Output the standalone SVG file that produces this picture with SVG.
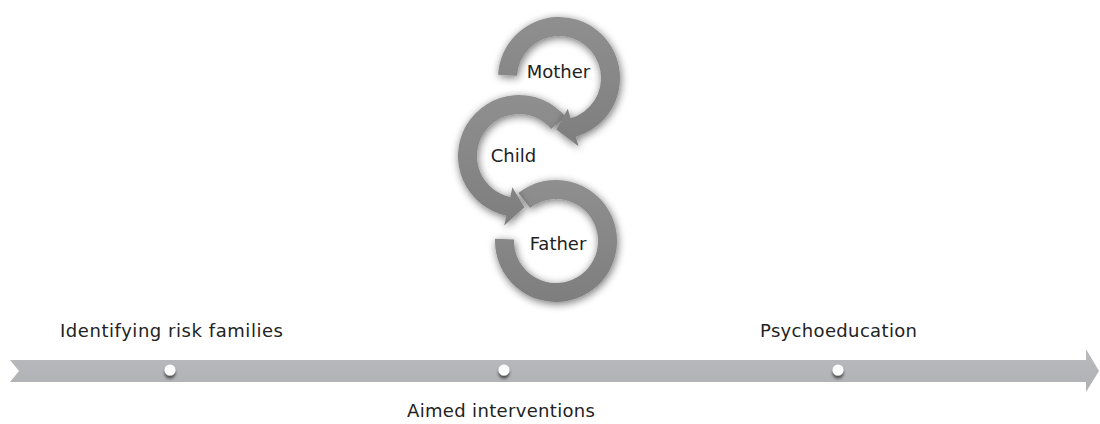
<svg xmlns="http://www.w3.org/2000/svg" width="1100" height="424" viewBox="0 0 1100 424">
  <style>
    .lbl { font-family: "DejaVu Sans", "Liberation Sans", sans-serif; font-size: 18px; fill: #222222; }
    .ring { fill: url(#ringGrad); filter: url(#ringShadow); }
    .dot { fill: #ffffff; filter: url(#dotShadow); }
  </style>
  <defs>
    <linearGradient id="ringGrad" x1="0" y1="0" x2="0" y2="1">
      <stop offset="0" stop-color="#8f8f8f"/>
      <stop offset="1" stop-color="#7e7e7e"/>
    </linearGradient>
    <linearGradient id="bandGrad" x1="0" y1="0" x2="0" y2="1">
      <stop offset="0" stop-color="#b9babd"/>
      <stop offset="1" stop-color="#b0b1b4"/>
    </linearGradient>
    <filter id="ringShadow" x="-30%" y="-30%" width="160%" height="160%">
      <feGaussianBlur in="SourceAlpha" stdDeviation="4"/>
      <feOffset dx="1" dy="2" result="b"/>
      <feComponentTransfer><feFuncA type="linear" slope="0.55"/></feComponentTransfer>
      <feMerge><feMergeNode/><feMergeNode in="SourceGraphic"/></feMerge>
    </filter>
    <filter id="dotShadow" x="-100%" y="-100%" width="300%" height="350%">
      <feGaussianBlur in="SourceAlpha" stdDeviation="1.8"/>
      <feOffset dx="0" dy="3"/>
      <feComponentTransfer><feFuncA type="linear" slope="0.6"/></feComponentTransfer>
      <feMerge><feMergeNode/><feMergeNode in="SourceGraphic"/></feMerge>
    </filter>
  </defs>

  <rect width="1100" height="424" fill="#ffffff"/>

  <!-- Timeline -->
  <g id="timeline">
    <path d="M 10 360 L 1086 360 L 1086 349 L 1099 371 L 1086 392 L 1086 382 L 10 382 L 19 371 Z" fill="url(#bandGrad)"/>
    <circle class="dot" cx="170" cy="370" r="5.5"/>
    <circle class="dot" cx="504" cy="370" r="5.5"/>
    <circle class="dot" cx="838" cy="370" r="5.5"/>
  </g>

  <g id="stage-identifying">
    <text class="lbl" x="60" y="337" textLength="223" lengthAdjust="spacing">Identifying risk families</text>
  </g>
  <g id="stage-aimed">
    <text class="lbl" x="407" y="417" textLength="188" lengthAdjust="spacing">Aimed interventions</text>
  </g>
  <g id="stage-psycho">
    <text class="lbl" x="760" y="337" textLength="157" lengthAdjust="spacing">Psychoeducation</text>
  </g>

  <!-- Circular arrows -->
  <g id="father">
    <path class="ring" d="M 518.44 192.93 A 61 61 0 1 1 495.04 238.87 L 514.03 239.53 A 42 42 0 1 0 530.14 207.90 Z"/>
    <text class="lbl" x="558" y="250" text-anchor="middle">Father</text>
  </g>
  <g id="child">
    <path class="ring" d="M 565.73 116.79 A 61 61 0 1 0 506.32 215.67 L 504.24 225.45 L 524.38 207.22 L 512.35 187.30 L 510.27 197.08 A 42 42 0 1 1 551.17 129.0 Z"/>
    <text class="lbl" x="513.5" y="162" text-anchor="middle">Child</text>
  </g>
  <g id="mother">
    <path class="ring" d="M 498.09 74.81 A 61 61 0 1 1 575.81 136.64 L 578.57 146.25 L 556.31 129.43 L 567.82 108.76 L 570.58 118.37 A 42 42 0 1 0 517.06 75.80 Z"/>
    <text class="lbl" x="558.5" y="78" text-anchor="middle">Mother</text>
  </g>
</svg>
